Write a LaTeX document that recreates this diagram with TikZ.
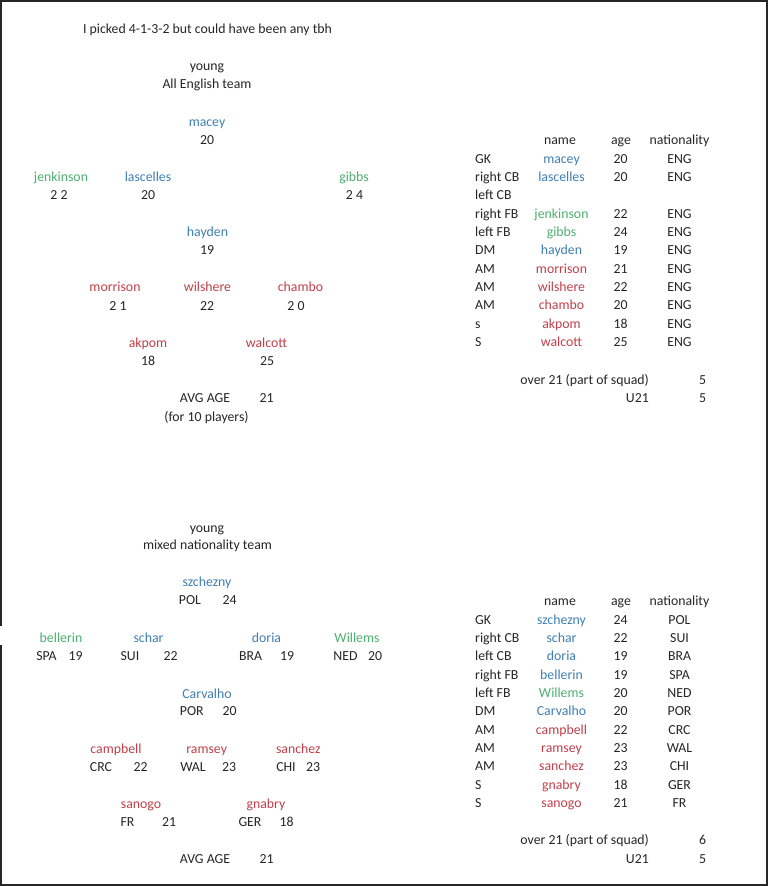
\documentclass[tikz,border=0pt]{standalone}
\usepackage{fontspec}
\setmainfont{Carlito}
\definecolor{ink}{HTML}{262626}
\definecolor{pblue}{HTML}{3F7FB3}
\definecolor{pgreen}{HTML}{4DAF6E}
\definecolor{pred}{HTML}{C0404A}
\begin{document}
\begin{tikzpicture}[x=1pt,y=-1pt,
  every node/.style={inner sep=0pt,anchor=mid,yshift=-2.5pt,font=\fontsize{13.8}{17}\selectfont},
  txt/.style={text=ink},
  bl/.style={text=pblue},
  gr/.style={text=pgreen},
  rd/.style={text=pred}]
\useasboundingbox (0,0) rectangle (768,886);
\fill[white] (0,0) rectangle (768,886);
\draw[line width=2pt,ink] (1,626) -- (1,1) -- (767,1) -- (767,885) -- (1,885) -- (1,645);

% ---------- top: All English team ----------
\node[txt] (title) at (207.5,29) {I picked 4-1-3-2 but could have been any tbh};
\node[txt] (young1) at (207,66) {young};
\node[txt] (eng) at (207,84) {All English team};

\node[bl] (macey) at (207,121.5) {macey};
\node[txt] (maceyA) at (207,140) {20};

\node[gr] (jenk) at (61,176.5) {jenkinson};
\node[txt] (jenkA) at (59,195) {2 2};
\node[bl] (lasc) at (148,176.5) {lascelles};
\node[txt] (lascA) at (148,195) {20};
\node[gr] (gibbs) at (354,176.5) {gibbs};
\node[txt] (gibbsA) at (354.5,195) {2 4};

\node[bl] (hayden) at (207.5,231.5) {hayden};
\node[txt] (haydenA) at (207,250) {19};

\node[rd] (morr) at (115,287) {morrison};
\node[txt] (morrA) at (118,305.5) {2 1};
\node[rd] (wils) at (207.5,287) {wilshere};
\node[txt] (wilsA) at (207,305.5) {22};
\node[rd] (chambo) at (300.5,287) {chambo};
\node[txt] (chamboA) at (296,305.5) {2 0};

\node[rd] (akpom) at (148,342.5) {akpom};
\node[txt] (akpomA) at (148,361) {18};
\node[rd] (walc) at (266.5,342.5) {walcott};
\node[txt] (walcA) at (267,361) {25};

\node[txt] (avg1) at (205,397.5) {AVG AGE};
\node[txt] (avg1v) at (266.5,397.5) {21};
\node[txt] (for10) at (206.5,416.5) {(for 10 players)};

% ---------- top table ----------
\node[txt] (h1name) at (560,140) {name};
\node[txt] (h1age) at (621,140) {age};
\node[txt] (h1nat) at (679.5,140) {nationality};
\foreach \p/\n/\c/\a/\t [count=\i] in {
  GK/macey/bl/20/ENG,
  right CB/lascelles/bl/20/ENG,
  left CB/{}/txt/{}/{},
  right FB/jenkinson/gr/22/ENG,
  left FB/gibbs/gr/24/ENG,
  DM/hayden/bl/19/ENG,
  AM/morrison/rd/21/ENG,
  AM/wilshere/rd/22/ENG,
  AM/chambo/rd/20/ENG,
  s/akpom/rd/18/ENG,
  S/walcott/rd/25/ENG}{
  \pgfmathsetmacro{\yy}{158.3+18.35*(\i-1)}
  \node[txt,anchor=mid west] (ap\i) at (475,\yy) {\p};
  \node[\c] (an\i) at (561.5,\yy) {\n};
  \node[txt] (aa\i) at (620.5,\yy) {\a};
  \node[txt] (at\i) at (679.5,\yy) {\t};
}
\node[txt,anchor=mid east] (over1) at (649,379.5) {over 21 (part of squad)};
\node[txt] (over1v) at (702.7,379.5) {5};
\node[txt,anchor=mid east] (u1) at (649,397.7) {U21};
\node[txt] (u1v) at (702.7,397.7) {5};

% ---------- bottom: mixed nationality team ----------
\node[txt] (young2) at (207,527.3) {young};
\node[txt] (mixed) at (207.5,545) {mixed nationality team};

\node[bl] (szch) at (207,581.7) {szchezny};
\node[txt] (szchN) at (190,600) {POL};
\node[txt] (szchA) at (229.5,600) {24};

\node[gr] (bell) at (61,637.3) {bellerin};
\node[txt] (bellN) at (46.5,655.7) {SPA};
\node[txt] (bellA) at (75.5,655.7) {19};
\node[bl] (schar) at (148.5,637.3) {schar};
\node[txt] (scharN) at (130,655.7) {SUI};
\node[txt] (scharA) at (170.5,655.7) {22};
\node[bl] (doria) at (266.5,637.3) {doria};
\node[txt] (doriaN) at (250.5,655.7) {BRA};
\node[txt] (doriaA) at (287,655.7) {19};
\node[gr] (will) at (357,637.3) {Willems};
\node[txt] (willN) at (345.5,655.7) {NED};
\node[txt] (willA) at (375,655.7) {20};

\node[bl] (carv) at (207,693.3) {Carvalho};
\node[txt] (carvN) at (191.8,711) {POR};
\node[txt] (carvA) at (229.7,711) {20};

\node[rd] (camp) at (116,748.3) {campbell};
\node[txt] (campN) at (101,766.7) {CRC};
\node[txt] (campA) at (140.5,766.7) {22};
\node[rd] (rams) at (206.7,748.3) {ramsey};
\node[txt] (ramsN) at (193,766.7) {WAL};
\node[txt] (ramsA) at (229,766.7) {23};
\node[rd] (sanc) at (298.3,748.3) {sanchez};
\node[txt] (sancN) at (286,766.7) {CHI};
\node[txt] (sancA) at (313,766.7) {23};

\node[rd] (sano) at (141,804) {sanogo};
\node[txt] (sanoN) at (127.5,821.7) {FR};
\node[txt] (sanoA) at (169,821.7) {21};
\node[rd] (gnab) at (266,804) {gnabry};
\node[txt] (gnabN) at (250,821.7) {GER};
\node[txt] (gnabA) at (286.7,821.7) {18};

\node[txt] (avg2) at (205,859) {AVG AGE};
\node[txt] (avg2v) at (266.5,859) {21};

% ---------- bottom table ----------
\node[txt] (h2name) at (560,600.7) {name};
\node[txt] (h2age) at (621,600.7) {age};
\node[txt] (h2nat) at (679.5,600.7) {nationality};
\foreach \p/\n/\c/\a/\t [count=\i] in {
  GK/szchezny/bl/24/POL,
  right CB/schar/bl/22/SUI,
  left CB/doria/bl/19/BRA,
  right FB/bellerin/bl/19/SPA,
  left FB/Willems/gr/20/NED,
  DM/Carvalho/bl/20/POR,
  AM/campbell/rd/22/CRC,
  AM/ramsey/rd/23/WAL,
  AM/sanchez/rd/23/CHI,
  S/gnabry/rd/18/GER,
  S/sanogo/rd/21/FR}{
  \pgfmathsetmacro{\yy}{619.3+18.34*(\i-1)}
  \node[txt,anchor=mid west] (bp\i) at (475,\yy) {\p};
  \node[\c] (bn\i) at (561.5,\yy) {\n};
  \node[txt] (ba\i) at (620.5,\yy) {\a};
  \node[txt] (bt\i) at (679.5,\yy) {\t};
}
\node[txt,anchor=mid east] (over2) at (649,840) {over 21 (part of squad)};
\node[txt] (over2v) at (702.7,840) {6};
\node[txt,anchor=mid east] (u2) at (649,858.3) {U21};
\node[txt] (u2v) at (702.7,858.3) {5};
\end{tikzpicture}
\end{document}
